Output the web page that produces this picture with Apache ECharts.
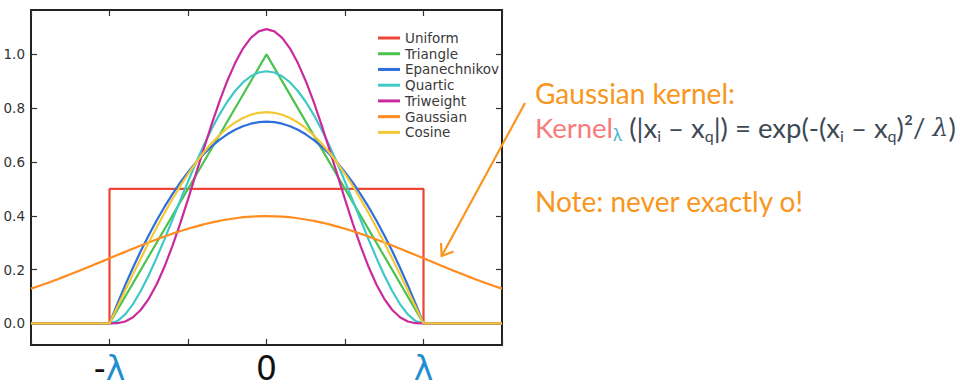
<!DOCTYPE html>
<html>
<head>
<meta charset="utf-8">
<script src="https://cdn.jsdelivr.net/npm/echarts@6/dist/echarts.min.js"></script>
<style>html,body{margin:0;padding:0;background:#fff}#c{width:960px;height:388px}</style>
</head>
<body>
<div id="c"></div>
<script>
// ---- data ----
const seriesNames = ['Uniform', 'Triangle', 'Epanechnikov', 'Quartic', 'Triweight', 'Gaussian', 'Cosine'];
const uniformX = [-1.5, -1, -1, 1, 1, 1.5];
const uniformY = [0, 0, 0.5, 0.5, 0, 0];
const triangleX = [-1.5, -1, 0, 1, 1.5];
const triangleY = [0, 0, 1, 0, 0];
const kernelX = [-1, -0.95, -0.9, -0.85, -0.8, -0.75, -0.7, -0.65, -0.6, -0.55, -0.5, -0.45, -0.4, -0.35, -0.3, -0.25, -0.2, -0.15, -0.1, -0.05, 0,
  0.05, 0.1, 0.15, 0.2, 0.25, 0.3, 0.35, 0.4, 0.45, 0.5, 0.55, 0.6, 0.65, 0.7, 0.75, 0.8, 0.85, 0.9, 0.95, 1];
const epanechnikovY = [0, 0.0731, 0.1425, 0.2081, 0.27, 0.3281, 0.3825, 0.4331, 0.48, 0.5231, 0.5625, 0.5981, 0.63, 0.6581, 0.6825, 0.7031, 0.72, 0.7331, 0.7425, 0.7481, 0.75,
  0.7481, 0.7425, 0.7331, 0.72, 0.7031, 0.6825, 0.6581, 0.63, 0.5981, 0.5625, 0.5231, 0.48, 0.4331, 0.3825, 0.3281, 0.27, 0.2081, 0.1425, 0.0731, 0];
const quarticY = [0, 0.0089, 0.0338, 0.0722, 0.1215, 0.1794, 0.2438, 0.3127, 0.384, 0.4561, 0.5273, 0.5963, 0.6615, 0.7219, 0.7763, 0.824, 0.864, 0.8958, 0.9188, 0.9328, 0.9375,
  0.9328, 0.9188, 0.8958, 0.864, 0.824, 0.7763, 0.7219, 0.6615, 0.5963, 0.5273, 0.4561, 0.384, 0.3127, 0.2438, 0.1794, 0.1215, 0.0722, 0.0338, 0.0089, 0];
const triweightY = [0, 0.001, 0.0075, 0.0234, 0.051, 0.0916, 0.1451, 0.2107, 0.2867, 0.3712, 0.4614, 0.5548, 0.6483, 0.739, 0.8242, 0.9012, 0.9677, 1.0216, 1.0613, 1.0856, 1.0938,
  1.0856, 1.0613, 1.0216, 0.9677, 0.9012, 0.8242, 0.739, 0.6483, 0.5548, 0.4614, 0.3712, 0.2867, 0.2107, 0.1451, 0.0916, 0.051, 0.0234, 0.0075, 0.001, 0];
const cosineY = [0, 0.0616, 0.1229, 0.1834, 0.2427, 0.3006, 0.3566, 0.4104, 0.4616, 0.5101, 0.5554, 0.5972, 0.6354, 0.6697, 0.6998, 0.7256, 0.747, 0.7637, 0.7757, 0.783, 0.7854,
  0.783, 0.7757, 0.7637, 0.747, 0.7256, 0.6998, 0.6697, 0.6354, 0.5972, 0.5554, 0.5101, 0.4616, 0.4104, 0.3566, 0.3006, 0.2427, 0.1834, 0.1229, 0.0616, 0];
const gaussianX = [-1.5, -1.4, -1.3, -1.2, -1.1, -1, -0.9, -0.8, -0.7, -0.6, -0.5, -0.4, -0.3, -0.2, -0.1, 0,
  0.1, 0.2, 0.3, 0.4, 0.5, 0.6, 0.7, 0.8, 0.9, 1, 1.1, 1.2, 1.3, 1.4, 1.5];
const gaussianY = [0.1295, 0.1497, 0.1714, 0.1942, 0.2179, 0.242, 0.2661, 0.2897, 0.3123, 0.3332, 0.3521, 0.3683, 0.3814, 0.391, 0.397, 0.3989,
  0.397, 0.391, 0.3814, 0.3683, 0.3521, 0.3332, 0.3123, 0.2897, 0.2661, 0.242, 0.2179, 0.1942, 0.1714, 0.1497, 0.1295];
const outsideX = [-1.5, 1.5];
const yTickValues = [0, 0.2, 0.4, 0.6, 0.8, 1.0];
const xTickLabels = { '-1': '{d|-}{l|λ}', '0': '{d|0}', '1': '{l|λ}' };

// ---- build ----
function zip(xs, ys) { return xs.map((x, i) => [x, ys[i]]); }
function withTails(xs, ys) { return [[outsideX[0], 0]].concat(zip(xs, ys), [[outsideX[1], 0]]); }

const colors = ['#ee4536', '#4cc34e', '#2f6fdc', '#3fc8c8', '#c92b9c', '#ff8c1f', '#f2c935'];
const dataSets = [
  zip(uniformX, uniformY),
  zip(triangleX, triangleY),
  withTails(kernelX, epanechnikovY),
  withTails(kernelX, quarticY),
  withTails(kernelX, triweightY),
  zip(gaussianX, gaussianY),
  withTails(kernelX, cosineY)
];

const chart = echarts.init(document.getElementById('c'), null, { renderer: 'svg' });
const orange = '#f8961d';
const tickStyle = { show: true, inside: true, length: 6, lineStyle: { color: '#333', width: 1.2 } };
const noLine = { show: false, onZero: false };

chart.setOption({
  animation: false,
  backgroundColor: '#fff',
  grid: { left: 31, top: 10, width: 471, height: 335, show: true, borderColor: '#222', borderWidth: 2, backgroundColor: 'transparent' },
  legend: {
    data: seriesNames, orient: 'vertical', left: 378, top: 31, padding: 0,
    icon: 'rect', itemWidth: 22, itemHeight: 3, itemGap: 1.73,
    textStyle: { fontFamily: 'DejaVu Sans', fontSize: 13.5, color: '#3a3a3a', lineHeight: 14 }
  },
  xAxis: [
    {
      type: 'value', min: -1.5, max: 1.5, interval: 0.5, position: 'bottom',
      axisLine: noLine, splitLine: { show: false }, axisTick: tickStyle,
      axisLabel: {
        margin: 7, formatter: v => xTickLabels[String(v)] || '',
        rich: {
          d: { fontFamily: 'DejaVu Sans', fontSize: 33, color: '#111', lineHeight: 33 },
          l: { fontFamily: 'DejaVu Sans', fontSize: 33, color: '#1f8fd0', lineHeight: 33 }
        }
      }
    },
    {
      type: 'value', min: -1.5, max: 1.5, interval: 0.5, position: 'top',
      axisLine: noLine, splitLine: { show: false }, axisTick: tickStyle, axisLabel: { show: false }
    }
  ],
  yAxis: [
    {
      type: 'value', min: -0.08, max: 1.165, position: 'left',
      axisLine: noLine, splitLine: { show: false },
      axisTick: Object.assign({ customValues: yTickValues }, tickStyle),
      axisLabel: { customValues: yTickValues, formatter: v => v.toFixed(1), margin: 6, fontFamily: 'DejaVu Sans', fontSize: 13.5, color: '#333' }
    },
    {
      type: 'value', min: -0.08, max: 1.165, position: 'right',
      axisLine: noLine, splitLine: { show: false },
      axisTick: Object.assign({ customValues: yTickValues }, tickStyle),
      axisLabel: { show: false }
    }
  ],
  series: seriesNames.map((name, i) => ({
    name, type: 'line', data: dataSets[i], xAxisIndex: 0, yAxisIndex: 0,
    smooth: name === 'Gaussian', showSymbol: false, symbol: 'none',
    color: colors[i], lineStyle: { width: 2.2, color: colors[i] }, z: 2 + i
  })),
  graphic: [
    {
      type: 'text', left: 535, top: 79,
      style: { text: 'Gaussian kernel:', fontFamily: 'Lato', fontSize: 28, fill: orange }
    },
    {
      type: 'text', left: 535, top: 113,
      style: {
        text: '{k|Kernel}{kl|λ}{m| (|x}{s|i}{m| – x}{s|q}{m||) = exp(-(x}{s|i}{m| – x}{s|q}{m|)²/ }{it|λ}{m|)}',
        rich: {
          k: { fontFamily: 'Lato', fontSize: 27.5, fill: '#f67c7c', lineHeight: 32 },
          kl: { fontFamily: 'Lato', fontSize: 17, fill: '#45b5cb', lineHeight: 12, verticalAlign: 'bottom' },
          m: { fontFamily: 'Lato', fontSize: 27.5, fill: '#3d4a56', lineHeight: 32 },
          s: { fontFamily: 'Lato', fontSize: 16, fill: '#3d4a56', lineHeight: 12, verticalAlign: 'bottom' },
          it: { fontFamily: 'DejaVu Serif', fontStyle: 'italic', fontSize: 25, fill: '#3d4a56', lineHeight: 32 }
        }
      }
    },
    {
      type: 'text', left: 535, top: 187,
      style: { text: 'Note: never exactly o!', fontFamily: 'Lato', fontSize: 28, fill: orange }
    },
    {
      type: 'line', shape: { x1: 525, y1: 103, x2: 441.7, y2: 256 },
      style: { stroke: orange, lineWidth: 2.2 }
    },
    {
      type: 'polyline', shape: { points: [[441, 243], [441.7, 256], [453.5, 251.5]] },
      style: { stroke: orange, lineWidth: 2.2, fill: null }
    }
  ]
});
</script>
</body>
</html>
